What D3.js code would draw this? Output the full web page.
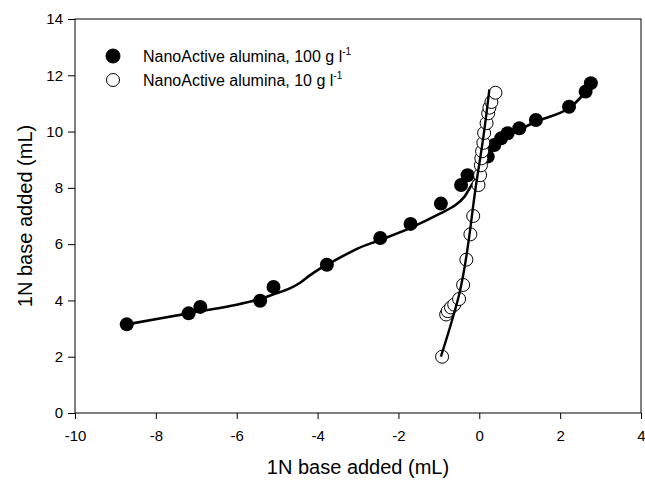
<!DOCTYPE html>
<html>
<head>
<meta charset="utf-8">
<script src="https://cdn.jsdelivr.net/npm/d3@7"></script>
<style>
  body { margin: 0; background: #fff; }
  svg text { font-family: "Liberation Sans", Arial, sans-serif; fill: #000; }
</style>
</head>
<body>
<svg id="chart" width="645" height="483"></svg>
<script>
// 100 g/l points (filled)
const x100 = [-8.72, -7.19, -6.90, -5.42, -5.09, -3.77, -2.45, -1.70, -0.95, -0.45, -0.29,
              0.21, 0.37, 0.54, 0.70, 0.99, 1.40, 2.22, 2.63, 2.76];
const y100 = [3.15, 3.54, 3.77, 3.99, 4.48, 5.27, 6.22, 6.72, 7.44, 8.10, 8.45,
              9.11, 9.52, 9.76, 9.94, 10.12, 10.41, 10.88, 11.42, 11.72];
// 10 g/l points (open)
const x10 = [-0.92, -0.82, -0.78, -0.70, -0.62, -0.50, -0.40, -0.32, -0.22, -0.15, -0.02,
             0.02, 0.04, 0.05, 0.07, 0.10, 0.12, 0.18, 0.22, 0.25, 0.30, 0.40];
const y10 = [2.00, 3.50, 3.62, 3.75, 3.85, 4.05, 4.55, 5.45, 6.35, 7.00, 8.10,
             8.45, 8.80, 9.05, 9.30, 9.60, 9.95, 10.30, 10.65, 10.85, 11.05, 11.38];
// fitted lines
const fit100x = [-8.72, -7.19, -6.0, -5.42, -5.09, -4.70, -4.44, -4.20, -3.95, -3.60, -3.00, -2.45, -1.70, -0.95, -0.58, -0.37, -0.20, 0.0, 0.2, 0.58, 0.99, 1.40, 2.22, 2.76];
const fit100y = [3.15, 3.54, 3.85, 4.05, 4.22, 4.42, 4.62, 4.88, 5.12, 5.40, 5.85, 6.15, 6.58, 7.10, 7.40, 7.68, 8.08, 8.52, 9.10, 9.70, 10.06, 10.35, 10.83, 11.66];
const fit10x = [-0.95, -0.50, -0.07, 0.10, 0.25];
const fit10y = [2.00, 4.20, 8.20, 9.80, 11.50];

const xTicks = [-10, -8, -6, -4, -2, 0, 2, 4];
const yTicks = [0, 2, 4, 6, 8, 10, 12, 14];
const legendLabels = ["NanoActive alumina, 100 g l", "NanoActive alumina, 10 g l"];

const svg = d3.select('#chart');
const mLeft = 75, mRight = 641, mTop = 19, mBottom = 413;

const x = d3.scaleLinear().domain([-10, 4]).range([mLeft, mRight]);
const y = d3.scaleLinear().domain([0, 14]).range([mBottom, mTop]);

// frame
svg.append('rect')
    .attr('x', mLeft).attr('y', mTop)
    .attr('width', mRight - mLeft).attr('height', mBottom - mTop)
    .attr('fill', 'none').attr('stroke', '#000').attr('stroke-width', 1);

const xAxis = svg.append('g')
    .attr('transform', `translate(0,${mBottom})`)
    .call(d3.axisBottom(x).tickValues(xTicks).tickSize(6).tickPadding(8).tickFormat(d3.format('d')));
const yAxis = svg.append('g')
    .attr('transform', `translate(${mLeft},0)`)
    .call(d3.axisLeft(y).tickValues(yTicks).tickSize(7).tickPadding(5).tickFormat(d3.format('d')));
[xAxis, yAxis].forEach(a => {
    a.select('.domain').remove();
    a.selectAll('text').attr('font-size', 15).attr('font-family', '"Liberation Sans", Arial, sans-serif').attr('fill', '#000');
    a.selectAll('line').attr('stroke', '#000');
});
xAxis.selectAll('text').attr('dy', '0.9em');
xAxis.selectAll('text').text(d => d < 0 ? '-' + Math.abs(d) : d);
yAxis.selectAll('text').text(d => d);

// titles
svg.append('text')
    .attr('x', (mLeft + mRight) / 2).attr('y', 474)
    .attr('text-anchor', 'middle').attr('font-size', 20)
    .text('1N base added (mL)');
svg.append('text')
    .attr('transform', `translate(32,${(mTop + mBottom) / 2}) rotate(-90)`)
    .attr('text-anchor', 'middle').attr('font-size', 20)
    .text('1N base added (mL)');

const line = d3.line().x(d => x(d[0])).y(d => y(d[1])).curve(d3.curveCatmullRom.alpha(0.5));

svg.append('path')
    .datum(fit100x.map((v, i) => [v, fit100y[i]]))
    .attr('d', line)
    .attr('fill', 'none').attr('stroke', '#000').attr('stroke-width', 2.6);

// filled points
svg.append('g').selectAll('circle')
    .data(x100.map((v, i) => [v, y100[i]]))
    .join('circle')
    .attr('cx', d => x(d[0])).attr('cy', d => y(d[1]))
    .attr('r', 7).attr('fill', '#000');

// open points
svg.append('g').selectAll('circle')
    .data(x10.map((v, i) => [v, y10[i]]))
    .join('circle')
    .attr('cx', d => x(d[0])).attr('cy', d => y(d[1]))
    .attr('r', 6.5).attr('fill', '#fff').attr('stroke', '#000').attr('stroke-width', 1);

svg.append('path')
    .datum(fit10x.map((v, i) => [v, fit10y[i]]))
    .attr('d', d3.line().x(d => x(d[0])).y(d => y(d[1])).curve(d3.curveMonotoneY))
    .attr('fill', 'none').attr('stroke', '#000').attr('stroke-width', 2.4);

// legend
const legend = svg.selectAll('.legend')
    .data(legendLabels).join('g')
    .attr('class', 'legend')
    .attr('transform', (d, i) => `translate(113,${56 + i * 24})`);
legend.append('circle')
    .attr('r', (d, i) => i === 0 ? 7 : 6.5)
    .attr('fill', (d, i) => i === 0 ? '#000' : '#fff')
    .attr('stroke', '#000').attr('stroke-width', 1);
const lt = legend.append('text')
    .attr('x', 30).attr('y', 6)
    .attr('font-size', 16)
    .text(d => d);
lt.append('tspan').attr('dy', -7).attr('font-size', 10).text('-1');
</script>
</body>
</html>
